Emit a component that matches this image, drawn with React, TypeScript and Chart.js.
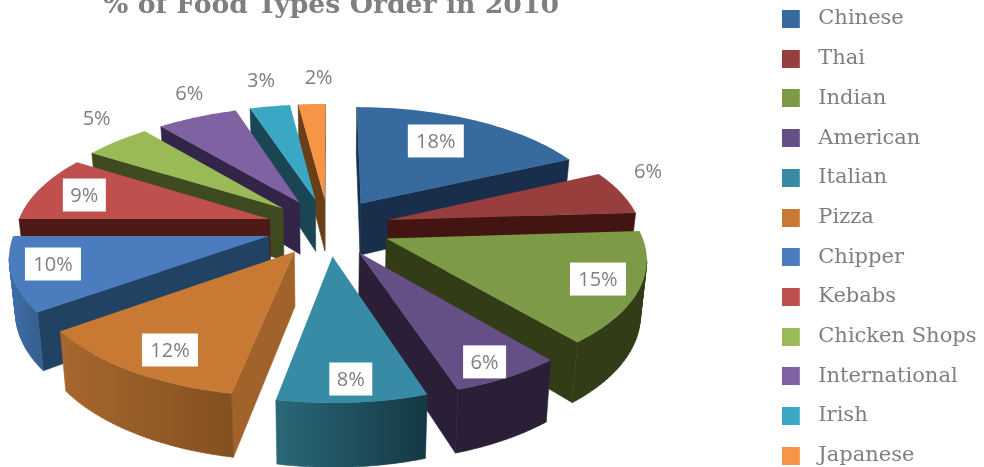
import React, { useEffect, useRef } from "react";
import { Chart, registerables } from "chart.js";

Chart.register(...registerables);

const categories = ["Chinese", "Thai", "Indian", "American", "Italian", "Pizza", "Chipper", "Kebabs", "Chicken Shops", "International", "Irish", "Japanese"];
const shares = [18, 6, 15, 6, 8, 12, 10, 9, 5, 6, 3, 2];
const topColors = ["#376a9e", "#983f3d", "#7d9a46", "#664f86", "#378ba4", "#c87a35", "#4b7cbd", "#bf504d", "#99ba56", "#7f62a2", "#3aa8c4", "#f79446"];
const wallColors = ["#182e4a", "#421512", "#323d18", "#2b1f37", "#143843", "#a2632a", "#224263", "#4d1a18", "#3e4a1f", "#33254a", "#1a4653", "#6a3f18"];
const rimLeftColors = ["#182e4a", "#421512", "#323d18", "#2b1f37", "#2a6878", "#a8682e", "#3f6fab", "#4d1a18", "#3e4a1f", "#33254a", "#1a4653", "#6a3f18"];
const rimRightColors = ["#182e4a", "#421512", "#323d18", "#2b1f37", "#143843", "#82501f", "#36608f", "#4d1a18", "#3e4a1f", "#33254a", "#1a4653", "#6a3f18"];
const labelBoxed = [true, false, true, true, true, true, true, true, false, false, false, false];
const labelRadius = [0.949, 1.444, 1.081, 1.125, 1.104, 1.071, 1.091, 1.05, 1.515, 1.527, 1.574, 1.579];
const labelTurn = [-2.9, -6.5, -0.5, 1, 0, -1.5, 1.8, -0.4, 4, 3, 0.4, 1.6];

const SHIFT = 30;
const view = { cx: 328.5, cy: 227 + SHIFT, radius: 253, squash: 0.46, persp: 0.142, explode: 0.245, depth: 53, taper: 0.02, labelNudge: 1.5 };

function project(X: number, Y: number, drop = 0) {
  const k = 1 / (1 - view.persp * Y);
  return {
    x: view.cx + view.radius * X * k * (1 - view.taper * drop),
    y: view.cy + view.squash * view.radius * Y * k + drop * view.depth * k,
  };
}

const pie3d = {
  id: "pie3d",
  beforeDatasetsDraw(chart: any) {
    const ctx: CanvasRenderingContext2D = chart.ctx;
    const arcs = chart.getDatasetMeta(0).data as any[];
    const slices = arcs.map((arc, i) => {
      const a0 = arc.startAngle + Math.PI / 2;
      const a1 = arc.endAngle + Math.PI / 2;
      const mid = (a0 + a1) / 2;
      const ox = view.explode * Math.sin(mid);
      const oy = -view.explode * Math.cos(mid);
      const steps = 40;
      const rim: [number, number][] = [];
      for (let s = 0; s <= steps; s++) {
        const t = a0 + ((a1 - a0) * s) / steps;
        rim.push([ox + Math.sin(t), oy - Math.cos(t)]);
      }
      return { i, mid, ox, oy, rim };
    });
    const order = [...slices].sort((p, q) => p.oy - q.oy);

    for (const sl of order) {
      const top = sl.rim.map(([X, Y]) => project(X, Y));
      const apex = project(sl.ox, sl.oy);
      let gx = apex.x, gy = apex.y;
      top.forEach((p) => { gx += p.x; gy += p.y; });
      gx /= top.length + 1;
      gy /= top.length + 1;
      const facing = (a: any, b: any) => {
        const cross = (px: number, py: number) => (b.x - a.x) * (py - a.y) - (b.y - a.y) * (px - a.x);
        return cross(gx, gy) * cross((a.x + b.x) / 2, Math.max(a.y, b.y) + 1000) < 0;
      };
      const quad = (a: [number, number], b: [number, number]) => {
        const p = project(a[0], a[1]);
        const q = project(b[0], b[1]);
        const r = project(b[0], b[1], 1);
        const s = project(a[0], a[1], 1);
        ctx.moveTo(p.x, p.y);
        ctx.lineTo(q.x, q.y);
        ctx.lineTo(r.x, r.y);
        ctx.lineTo(s.x, s.y);
        ctx.closePath();
      };

      const wall = wallColors[sl.i];
      ctx.fillStyle = wall;
      ctx.strokeStyle = wall;
      ctx.lineWidth = 0.6;
      const pivot: [number, number] = [sl.ox, sl.oy];
      for (const end of [sl.rim[0], sl.rim[sl.rim.length - 1]]) {
        if (facing(apex, project(end[0], end[1]))) {
          ctx.beginPath();
          quad(pivot, end);
          ctx.fill();
          ctx.stroke();
        }
      }

      let minX = Infinity, maxX = -Infinity;
      const visible: number[] = [];
      for (let s = 0; s < top.length - 1; s++) {
        if (facing(top[s], top[s + 1])) {
          visible.push(s);
          minX = Math.min(minX, top[s].x, top[s + 1].x);
          maxX = Math.max(maxX, top[s].x, top[s + 1].x);
        }
      }
      if (visible.length) {
        const grad = ctx.createLinearGradient(minX, 0, maxX, 0);
        grad.addColorStop(0, rimLeftColors[sl.i]);
        grad.addColorStop(1, rimRightColors[sl.i]);
        ctx.fillStyle = grad;
        ctx.strokeStyle = grad;
        ctx.beginPath();
        for (const s of visible) quad(sl.rim[s], sl.rim[s + 1]);
        ctx.fill();
        ctx.stroke();
      }

      ctx.fillStyle = topColors[sl.i];
      ctx.beginPath();
      ctx.moveTo(apex.x, apex.y);
      top.forEach((p) => ctx.lineTo(p.x, p.y));
      ctx.closePath();
      ctx.fill();
    }

    ctx.font = '20px "Open Sans"';
    ctx.textAlign = "center";
    ctx.textBaseline = "middle";
    for (const sl of slices) {
      const t = sl.mid + (labelTurn[sl.i] * Math.PI) / 180;
      const rho = labelRadius[sl.i];
      const p = project(rho * Math.sin(t), -rho * Math.cos(t));
      const px = p.x + view.labelNudge;
      const text = `${shares[sl.i]}%`;
      if (labelBoxed[sl.i]) {
        const w = text.length > 2 ? 56 : 43;
        ctx.fillStyle = "#ffffff";
        ctx.fillRect(px - w / 2, p.y - 16.5, w, 33);
      }
      ctx.fillStyle = "#7f7f7f";
      ctx.fillText(text, px, p.y + 1);
    }
    return false;
  },
};

function swatch(color: string) {
  const c = document.createElement("canvas");
  c.width = 26;
  c.height = 18;
  const g = c.getContext("2d")!;
  g.fillStyle = color;
  g.fillRect(0, 0, 18, 18);
  return c;
}

export default function App() {
  const ref = useRef<HTMLCanvasElement>(null);
  useEffect(() => {
    const chart = new Chart(ref.current!, {
      type: "pie",
      data: {
        labels: categories,
        datasets: [{ data: shares, backgroundColor: topColors, borderWidth: 0 }],
      },
      options: {
        responsive: false,
        animation: false,
        layout: { padding: { left: 103, right: -2.5, top: 19.8, bottom: 0 } },
        plugins: {
          tooltip: { enabled: false },
          title: {
            display: true,
            text: "% of Food Types Order in 2010",
            align: "start",
            fullSize: false,
            color: "#7f7f7f",
            font: { family: '"DejaVu Serif"', size: 26.7, weight: "bold" },
            padding: { top: 0, bottom: 0 },
          },
          legend: {
            position: "right",
            align: "start",
            labels: {
              color: "#7f7f7f",
              font: { family: '"DejaVu Serif"', size: 21 },
              usePointStyle: true,
              pointStyleWidth: 26,
              boxHeight: 18,
              padding: 18.7,
              generateLabels: (c: any) =>
                c.data.labels.map((text: string, i: number) => ({
                  text,
                  index: i,
                  fillStyle: topColors[i],
                  strokeStyle: topColors[i],
                  lineWidth: 0,
                  fontColor: "#7f7f7f",
                  pointStyle: swatch(topColors[i]),
                })),
            },
          },
        },
      } as any,
      plugins: [pie3d as any],
    });
    return () => chart.destroy();
  }, []);
  return (
    <div style={{ position: "fixed", left: 0, top: 0, width: 984, height: 467, overflow: "hidden", background: "#fff" }}>
      <canvas ref={ref} width={984} height={540} style={{ position: "absolute", left: 0, top: -SHIFT, width: 984, height: 540 }} />
    </div>
  );
}
